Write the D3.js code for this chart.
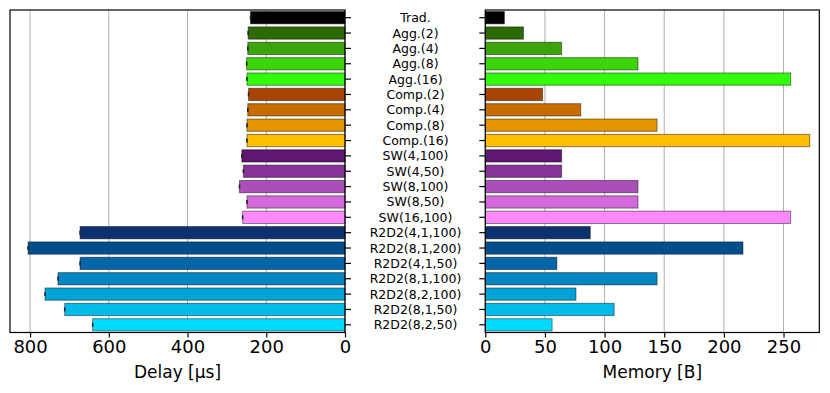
<!DOCTYPE html>
<meta charset="utf-8">
<style>
  body { margin: 0; background: #fff; }
  text { font-family: "DejaVu Sans", sans-serif; fill: #000; }
  .grid line { stroke: #b0b0b0; stroke-width: 1px; }
</style>
<svg width="830" height="393"></svg>
<script src="https://cdn.jsdelivr.net/npm/d3@7"></script>
<script>
  // Categories, top to bottom
  var schemes = ["Trad.", "Agg.(2)", "Agg.(4)", "Agg.(8)", "Agg.(16)",
    "Comp.(2)", "Comp.(4)", "Comp.(8)", "Comp.(16)",
    "SW(4,100)", "SW(4,50)", "SW(8,100)", "SW(8,50)", "SW(16,100)",
    "R2D2(4,1,100)", "R2D2(8,1,200)", "R2D2(4,1,50)", "R2D2(8,1,100)",
    "R2D2(8,2,100)", "R2D2(8,1,50)", "R2D2(8,2,50)"];

  // Delay in microseconds
  var delay = [240, 246, 247, 250, 249, 245, 247, 249, 249,
    262, 258, 268, 249, 260,
    673, 805, 673, 729, 762, 712, 641];
  var delayErr = [2, 2, 2, 2, 2, 2, 2, 2, 2, 2, 2, 2, 2, 2, 2, 2, 2, 2, 2, 2, 2];

  // Memory in bytes
  var memory = [16, 32, 64, 128, 256, 48, 80, 144, 272,
    64, 64, 128, 128, 256,
    88, 216, 60, 144, 76, 108, 56];

  var colors = ["#000000", "#2d6a06", "#3ca30a", "#3ad50a", "#33ff0a",
    "#a84400", "#c96c00", "#e39500", "#ffbd00",
    "#5f1771", "#883399", "#ab4ebb", "#d26ade", "#ff88ff",
    "#0b326e", "#034f8d", "#0466a8", "#0385c2", "#00a2d7", "#00bbea", "#00dcff"];

  var delayTicks = [800, 600, 400, 200, 0];
  var memoryTicks = [0, 50, 100, 150, 200, 250];

  var svg = d3.select("svg");
  var plotTop = 10, plotBottom = 332.5;

  var y = d3.scaleBand()
    .domain(schemes)
    .range([plotTop, plotBottom])
    .paddingInner(0.2)
    .paddingOuter(0.1);

  // Left panel: delay, reversed axis
  var xL = d3.scaleLinear().domain([851, 0]).range([10, 345]);
  // Right panel: memory
  var xR = d3.scaleLinear().domain([0, 280]).range([485.3, 819.3]);

  function panel(x, ticks, values, label, tickSide) {
    var g = svg.append("g");
    var x0 = x.range()[0], x1 = x.range()[1];

    g.append("g")
      .attr("class", "grid")
      .selectAll("line")
      .data(ticks)
      .enter()
      .append("line")
      .attr("x1", function (d) { return x(d); })
      .attr("x2", function (d) { return x(d); })
      .attr("y1", plotTop)
      .attr("y2", plotBottom);

    g.selectAll(".bar")
      .data(values)
      .enter()
      .append("rect")
      .attr("class", "bar")
      .attr("x", function (d) { return Math.min(x(0), x(d)); })
      .attr("width", function (d) { return Math.abs(x(d) - x(0)); })
      .attr("y", function (d, i) { return y(schemes[i]); })
      .attr("height", y.bandwidth())
      .attr("fill", function (d, i) { return colors[i]; })
      .attr("stroke", "rgba(0,0,0,0.45)")
      .attr("stroke-width", 1);

    // x axis
    var axis = d3.axisBottom(x).tickValues(ticks).tickSize(5).tickPadding(3)
      .tickFormat(d3.format("d"));
    var ax = g.append("g")
      .attr("transform", "translate(0," + plotBottom + ")")
      .call(axis);
    ax.select(".domain").remove();
    ax.selectAll("text").style("font-size", "18px").style("font-family", "DejaVu Sans, sans-serif");
    ax.selectAll("line").attr("stroke-width", 1.2);

    // y ticks
    var yAxis = (tickSide === "right" ? d3.axisRight(y) : d3.axisLeft(y))
      .tickSize(6).tickFormat("");
    var yx = g.append("g")
      .attr("transform", "translate(" + (tickSide === "right" ? x1 : x0) + ",0)")
      .call(yAxis);
    yx.select(".domain").remove();
    yx.selectAll("line").attr("stroke-width", 1.2);

    // frame
    g.append("rect")
      .attr("x", Math.min(x0, x1))
      .attr("y", plotTop)
      .attr("width", Math.abs(x1 - x0))
      .attr("height", plotBottom - plotTop)
      .attr("fill", "none")
      .attr("stroke", "#000")
      .attr("stroke-width", 1.2);

    g.append("text")
      .attr("x", (x0 + x1) / 2)
      .attr("y", 378)
      .attr("text-anchor", "middle")
      .style("font-size", "17px")
      .text(label);

    return g;
  }

  var left = panel(xL, delayTicks, delay, "Delay [μs]", "right");
  panel(xR, memoryTicks, memory, "Memory [B]", "left");

  // small error marks on the delay bars
  left.selectAll(".err")
    .data(delay)
    .enter()
    .append("line")
    .attr("x1", function (d, i) { return xL(d - delayErr[i]); })
    .attr("x2", function (d, i) { return xL(d + delayErr[i]); })
    .attr("y1", function (d, i) { return y(schemes[i]) + y.bandwidth() / 2; })
    .attr("y2", function (d, i) { return y(schemes[i]) + y.bandwidth() / 2; })
    .attr("stroke", "#222")
    .attr("stroke-width", 4);

  // category labels between the panels
  svg.append("g")
    .selectAll("text")
    .data(schemes)
    .enter()
    .append("text")
    .attr("x", 415.5)
    .attr("y", function (d) { return y(d) + y.bandwidth() / 2; })
    .attr("dy", "0.36em")
    .attr("text-anchor", "middle")
    .style("font-size", "12.5px")
    .text(function (d) { return d; });
</script>
